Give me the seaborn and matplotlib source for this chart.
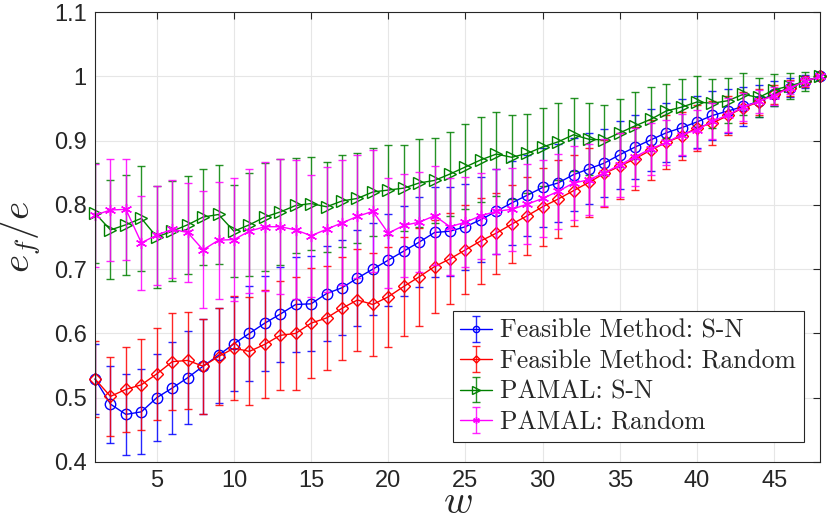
import numpy as np
import pandas as pd
import seaborn as sns
import matplotlib.pyplot as plt
from matplotlib.legend_handler import HandlerTuple

# window size w = 1..48
w = np.arange(1, 49)

# Feasible Method: S-N
fm_sn = [0.529, 0.490, 0.474, 0.478, 0.500, 0.515, 0.531, 0.549, 0.566, 0.584,
         0.600, 0.616, 0.630, 0.645, 0.646, 0.662, 0.671, 0.686, 0.700, 0.714,
         0.728, 0.742, 0.757, 0.759, 0.766, 0.777, 0.790, 0.803, 0.815, 0.827,
         0.834, 0.847, 0.856, 0.865, 0.878, 0.890, 0.901, 0.912, 0.920, 0.929,
         0.939, 0.946, 0.953, 0.961, 0.973, 0.982, 0.992, 1.000]
fm_sn_err = [0.055, 0.060, 0.063, 0.066, 0.068, 0.071, 0.072, 0.074, 0.074, 0.073,
             0.074, 0.074, 0.074, 0.074, 0.074, 0.074, 0.074, 0.075, 0.072, 0.071,
             0.070, 0.070, 0.070, 0.069, 0.067, 0.066, 0.066, 0.065, 0.063, 0.061,
             0.060, 0.057, 0.055, 0.053, 0.053, 0.050, 0.048, 0.046, 0.044, 0.041,
             0.038, 0.034, 0.030, 0.025, 0.020, 0.015, 0.010, 0.000]

# Feasible Method: Random
fm_rand = [0.529, 0.502, 0.513, 0.520, 0.537, 0.556, 0.558, 0.549, 0.564, 0.577,
           0.572, 0.583, 0.597, 0.600, 0.616, 0.624, 0.639, 0.652, 0.645, 0.657,
           0.673, 0.688, 0.704, 0.716, 0.730, 0.744, 0.756, 0.770, 0.783, 0.797,
           0.809, 0.822, 0.835, 0.849, 0.860, 0.872, 0.885, 0.897, 0.907, 0.920,
           0.927, 0.939, 0.951, 0.960, 0.972, 0.982, 0.992, 1.000]
fm_rand_err = [0.059, 0.062, 0.066, 0.071, 0.072, 0.075, 0.076, 0.074, 0.076, 0.081,
               0.084, 0.084, 0.085, 0.088, 0.086, 0.081, 0.080, 0.079, 0.080, 0.078,
               0.077, 0.076, 0.072, 0.071, 0.069, 0.067, 0.063, 0.061, 0.061, 0.061,
               0.060, 0.055, 0.054, 0.052, 0.051, 0.049, 0.047, 0.042, 0.038, 0.036,
               0.034, 0.030, 0.024, 0.020, 0.015, 0.012, 0.008, 0.000]

# PAMAL: S-N
pa_sn = [0.787, 0.761, 0.769, 0.779, 0.750, 0.759, 0.769, 0.781, 0.785, 0.759,
         0.769, 0.781, 0.789, 0.799, 0.802, 0.797, 0.806, 0.810, 0.820, 0.823,
         0.826, 0.834, 0.838, 0.848, 0.859, 0.870, 0.879, 0.874, 0.880, 0.890,
         0.898, 0.909, 0.902, 0.901, 0.912, 0.923, 0.933, 0.946, 0.952, 0.960,
         0.958, 0.962, 0.972, 0.967, 0.979, 0.985, 0.992, 1.000]
pa_sn_err = [0.078, 0.077, 0.078, 0.082, 0.080, 0.078, 0.076, 0.075, 0.077, 0.072,
             0.080, 0.084, 0.083, 0.074, 0.073, 0.070, 0.071, 0.070, 0.069, 0.070,
             0.067, 0.068, 0.066, 0.066, 0.066, 0.066, 0.066, 0.065, 0.062, 0.061,
             0.060, 0.057, 0.056, 0.055, 0.053, 0.052, 0.050, 0.042, 0.044, 0.041,
             0.038, 0.035, 0.033, 0.030, 0.025, 0.020, 0.015, 0.000]

# PAMAL: Random
pa_rand = [0.784, 0.792, 0.793, 0.741, 0.753, 0.762, 0.757, 0.730, 0.745, 0.746,
           0.759, 0.766, 0.766, 0.761, 0.752, 0.762, 0.772, 0.782, 0.790, 0.756,
           0.768, 0.773, 0.783, 0.766, 0.773, 0.783, 0.790, 0.793, 0.801, 0.810,
           0.821, 0.834, 0.839, 0.850, 0.862, 0.875, 0.887, 0.897, 0.909, 0.917,
           0.930, 0.940, 0.952, 0.961, 0.970, 0.982, 0.992, 1.000]
pa_rand_err = [0.080, 0.080, 0.079, 0.073, 0.077, 0.076, 0.077, 0.091, 0.091, 0.095,
               0.096, 0.100, 0.105, 0.108, 0.095, 0.097, 0.097, 0.096, 0.095, 0.085,
               0.080, 0.078, 0.077, 0.075, 0.070, 0.067, 0.066, 0.065, 0.062, 0.060,
               0.058, 0.057, 0.055, 0.052, 0.050, 0.045, 0.040, 0.035, 0.032, 0.030,
               0.028, 0.026, 0.022, 0.018, 0.014, 0.010, 0.007, 0.000]

labels = ["Feasible Method: S-N", "Feasible Method: Random", "PAMAL: S-N", "PAMAL: Random"]

sns.set_theme(style="whitegrid")
plt.rcParams['font.family'] = ['Liberation Sans', 'DejaVu Sans']
plt.rcParams['mathtext.fontset'] = 'cm'

fig, ax = plt.subplots(figsize=(8.3, 5.22), dpi=100)
fig.subplots_adjust(left=0.1145, right=0.9885, top=0.977, bottom=0.115)

series = [
    (fm_sn, fm_sn_err, "#0000ff", "o", 7.5),
    (fm_rand, fm_rand_err, "#ff0000", "D", 6),
    (pa_sn, pa_sn_err, "#008000", ">", 8.5),
    (pa_rand, pa_rand_err, "#ff00ff", (6, 2, 0), 8),
]

handles = []
for (vals, err, col, mk, ms), lab in zip(series, labels):
    eb = ax.errorbar(w, vals, yerr=err, fmt="none", ecolor=col, elinewidth=1.0,
                     capsize=3, capthick=1.0, alpha=0.85)
    sns.lineplot(x=w, y=vals, ax=ax, color=col, marker=mk, markersize=ms,
                 markerfacecolor="none", markeredgecolor=col, markeredgewidth=1.0,
                 linewidth=1.0, clip_on=False)
    ln = ax.lines[-1]
    handles.append((eb, ln))

ax.set_xlim(1, 48)
ax.set_ylim(0.4, 1.1)
ax.set_xticks(range(5, 50, 5))
ax.set_yticks([0.4, 0.5, 0.6, 0.7, 0.8, 0.9, 1.0, 1.1])
ax.set_yticklabels(["0.4", "0.5", "0.6", "0.7", "0.8", "0.9", "1", "1.1"])

ax.tick_params(direction="in", top=True, right=True, length=5, width=0.8,
               labelsize=17, colors="#262626", pad=6)
for sp in ax.spines.values():
    sp.set_color("#262626")
    sp.set_linewidth(0.8)
ax.grid(True, color="#e6e6e6", linewidth=0.8)
ax.set_facecolor("white")

ax.set_xlabel("$w$", fontsize=29, labelpad=-7)
ax.set_ylabel("$e_f/e$", fontsize=28)
ax.yaxis.set_label_coords(-0.072, 0.5)

leg = ax.legend(handles, labels, loc="lower right", bbox_to_anchor=(0.977, 0.045),
                handler_map={tuple: HandlerTuple(ndivide=1)},
                prop={"family": "cmr10", "size": 18.5}, frameon=True, fancybox=False,
                edgecolor="#262626", framealpha=1, borderpad=0.3, labelspacing=0.26,
                handlelength=1.25, handletextpad=0.3, markerscale=0.6, borderaxespad=0)
leg.get_frame().set_linewidth(0.8)

fig.savefig("out.png", dpi=100)
